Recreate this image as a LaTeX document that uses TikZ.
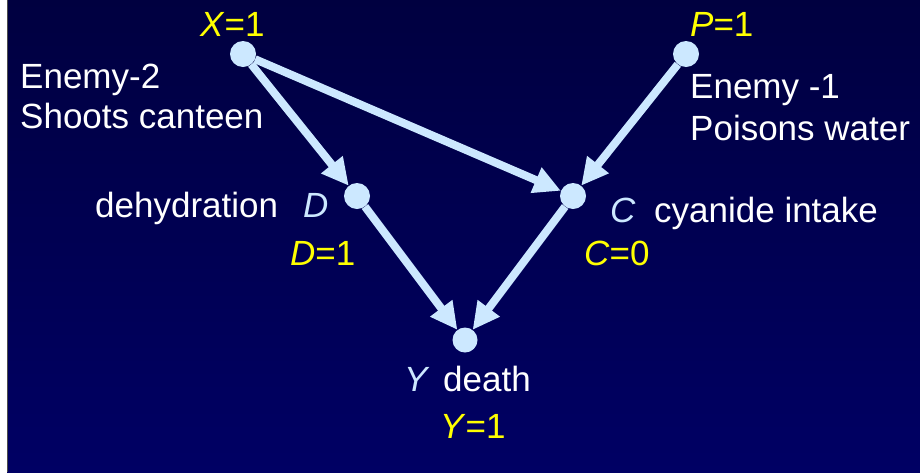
\documentclass[tikz,border=0pt]{standalone}
\usepackage{fontspec}
\setmainfont{Liberation Sans}
\usetikzlibrary{arrows.meta}
\definecolor{bgtop}{HTML}{000040}
\definecolor{bgbot}{HTML}{000064}
\definecolor{nodeblue}{HTML}{CCE8FF}
\definecolor{labyel}{HTML}{FFFF00}
\begin{document}
\begin{tikzpicture}[x=1pt,y=-1pt,
  dot/.style={circle,fill=nodeblue,minimum size=26pt,inner sep=0pt},
  edge/.style={draw=nodeblue,line width=8pt,-{Triangle[length=27pt,width=26pt]}},
  txt/.style={font=\fontsize{35}{40}\selectfont,text=white,anchor=base west,inner sep=0pt},
  val/.style={txt,text=labyel},
  var/.style={txt,text=nodeblue}]
\useasboundingbox (0,0) rectangle (920,472);
\fill[white] (0,0) rectangle (920,472);
\shade[top color=bgtop,bottom color=bgbot] (7,0) rectangle (920,472);
\draw[gray!60!black, line width=1pt] (7,0) -- (7,472);

\node[dot] (X) at (243,54) {};
\node[dot] (P) at (686,54) {};
\node[dot] (D) at (357,196) {};
\node[dot] (C) at (573,196) {};
\node[dot,minimum size=25pt] (Y) at (465,340) {};

\draw[edge] (X) -- (D);
\draw[edge] (X) -- (C);
\draw[edge] (P) -- (C);
\draw[edge] (D) -- (Y);
\draw[edge] (C) -- (Y);

\node[val] (xl) at (200,36) {\textit{X}=1};
\node[val] (pl) at (690,36) {\textit{P}=1};
\node[txt] (e2a) at (20,88) {Enemy-2};
\node[txt] (e2b) at (20,128) {Shoots canteen};
\node[txt] (e1a) at (690,98) {Enemy -1};
\node[txt] (e1b) at (690,140) {Poisons water};
\node[txt] (dl) at (95,217) {dehydration};
\node[var] (dv) at (303,217) {\textit{D}};
\node[val] (dval) at (290,265) {\textit{D}=1};
\node[var] (cv) at (610,222) {\textit{C}};
\node[txt] (cl) at (654,222) {cyanide intake};
\node[val] (cval) at (584,265) {\textit{C}=0};
\node[var] (yv) at (404,391) {\textit{Y}};
\node[txt] (yl) at (443,391) {death};
\node[val] (yval) at (440,438) {\textit{Y}=1};
\end{tikzpicture}
\end{document}
